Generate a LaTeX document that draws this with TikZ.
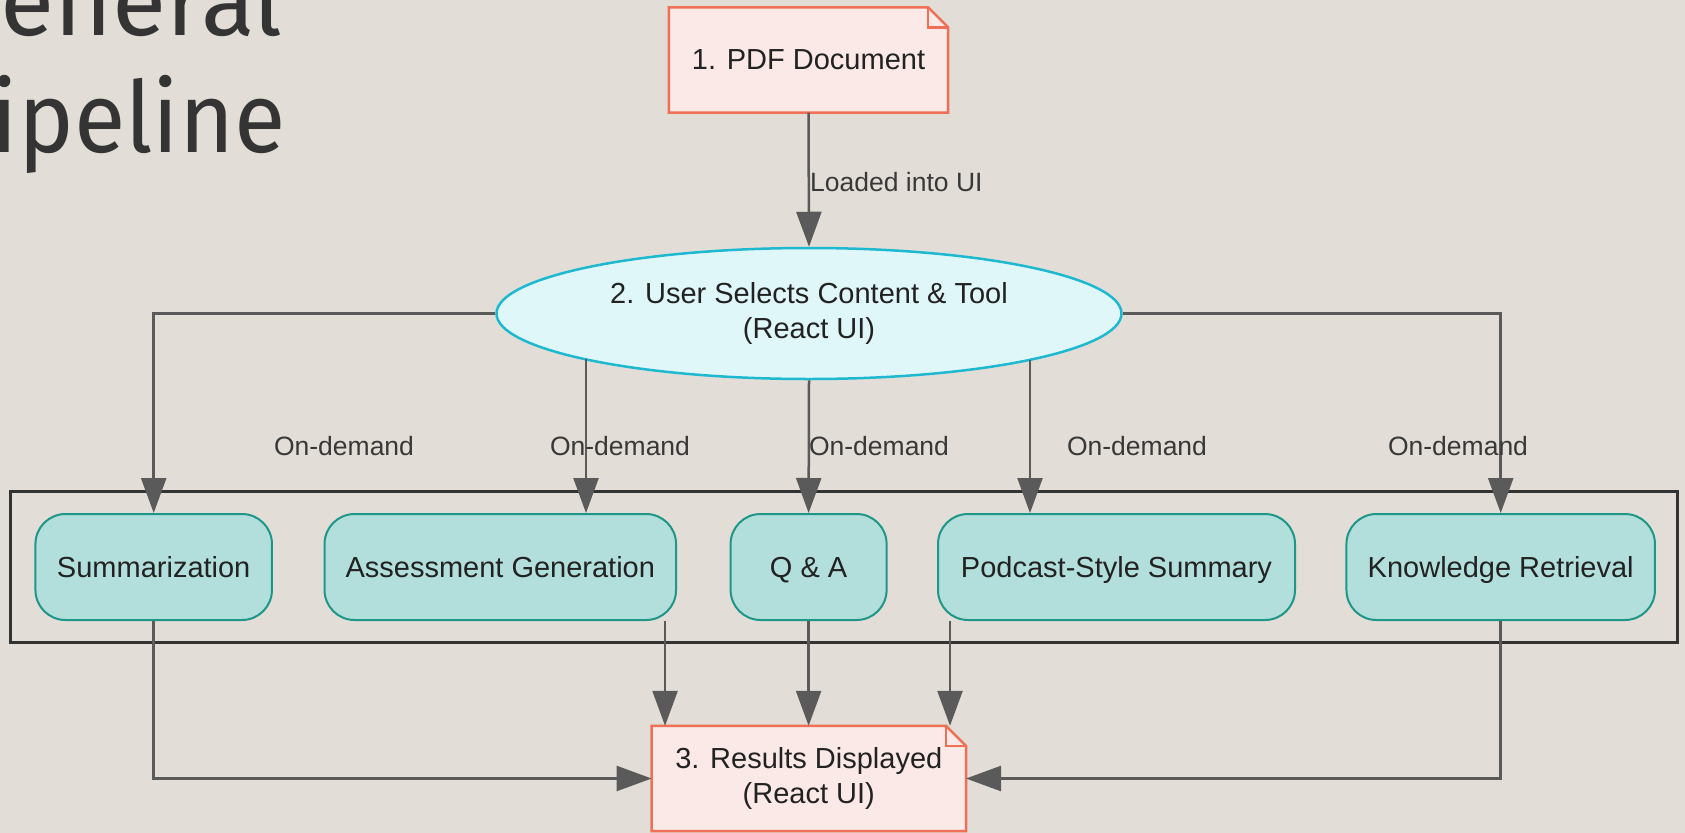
\documentclass[tikz,border=0pt]{standalone}
\usepackage{fontspec}
\setmainfont{Liberation Sans}
\newfontfamily\titlefont{Fira Sans}
\newfontfamily\titlefontn[FakeStretch=0.95]{Fira Sans}
\usetikzlibrary{arrows.meta,backgrounds,shapes.geometric,calc}
\definecolor{bgc}{RGB}{226,222,215}
\definecolor{notef}{RGB}{251,233,231}
\definecolor{noteb}{RGB}{239,112,84}
\definecolor{ellf}{RGB}{224,247,250}
\definecolor{ellb}{RGB}{30,185,208}
\definecolor{toolf}{RGB}{178,223,219}
\definecolor{toolb}{RGB}{30,150,136}
\definecolor{edgec}{RGB}{90,90,90}
\definecolor{boxc}{RGB}{51,51,51}
\definecolor{txt}{RGB}{34,34,34}
\definecolor{titlec}{RGB}{52,52,52}
\newcommand\drawnote[1]{%
  \begin{pgfonlayer}{background}
  \draw[noteline] (#1.south west) -- (#1.south east) -- ([yshift=-20bp]#1.north east)
     -- ([xshift=-20bp]#1.north east) -- (#1.north west) -- cycle;
  \draw[noteline, fill=none] ([xshift=-20bp]#1.north east) -- ([xshift=-20bp,yshift=-20bp]#1.north east)
     -- ([yshift=-20bp]#1.north east);
  \end{pgfonlayer}}
\tikzset{
  nodefont/.style={font=\fontsize{29bp}{35bp}\selectfont, text=txt},
  notebox/.style={nodefont, align=center, inner sep=0pt, minimum height=105bp},
  noteline/.style={draw=noteb, fill=notef, line width=2.5bp, line join=miter},
  ellbox/.style={ellipse, nodefont, align=center, draw=ellb, fill=ellf, line width=2.5bp,
     minimum width=625bp, minimum height=131bp, inner sep=0pt},
  toolbox/.style={rectangle, rounded corners=30bp, nodefont, draw=toolb, fill=toolf,
     line width=2bp, minimum height=106bp, inner sep=0pt, text height=21bp, text depth=0bp},
  container/.style={rectangle, draw=boxc, line width=3bp, inner sep=0pt},
  edge/.style={draw=edgec, line width=2.5bp, -{Triangle[length=35bp,width=25bp]}},
  lbl/.style={font=\fontsize{26.5bp}{32bp}\selectfont, text=txt!90, inner sep=0pt},
  titletext/.style={text=titlec, inner sep=0pt}
}
\begin{document}
\begin{tikzpicture}[x=1bp,y=-1bp]
\useasboundingbox (0,0) rectangle (1685,833);
\begin{pgfonlayer}{background}
\fill[bgc] (0,0) rectangle (1685,833);
\end{pgfonlayer}

% title fragments
\node[titletext, font=\titlefont\fontsize{99bp}{117bp}\selectfont, anchor=base east] (t1) at (283,35) {General};
\node[titletext, font=\titlefontn\fontsize{99bp}{117bp}\selectfont, anchor=base east] (t2) at (286,152) {Pipeline};

% notes and ellipse
\node[notebox, minimum width=279bp] (pdf) at (808.5,60) {1. PDF Document};
\drawnote{pdf}
\node[ellbox] (ui) at (809,313.5) {2. User Selects Content \& Tool\\(React UI)};
\node[notebox, minimum width=314bp] (res) at (808.8,778.5) {3. Results Displayed\\(React UI)};
\drawnote{res}

% container and tools
\node[container, minimum width=1667bp, minimum height=151.6bp] (box) at (844.4,566.8) {};
\node[toolbox, minimum width=236.5bp] (sum) at (153.7,567) {Summarization};
\node[toolbox, minimum width=351.5bp] (assess) at (500.3,567) {Assessment Generation};
\node[toolbox, minimum width=156bp] (qa) at (808.6,567) {Q \& A};
\node[toolbox, minimum width=357bp] (pod) at (1116.5,567) {Podcast-Style Summary};
\node[toolbox, minimum width=308.5bp] (kr) at (1500.7,567) {Knowledge Retrieval};

% branch points on the ellipse border
\coordinate (uiA) at ($(ui.center)+(-223,45.8)$);
\coordinate (uiP) at ($(ui.center)+(221,46)$);

% edges
\draw[edge] (pdf.south) -- (ui.north);
\draw[edge] (ui.west) -| (sum.north);
\draw[edge] (uiA) -- (uiA |- assess.north);
\draw[edge] (ui.south) -- (qa.north);
\draw[edge] (uiP) -- (uiP |- pod.north);
\draw[edge] (ui.east) -| (kr.north);

\draw[edge] ([xshift=-12bp]assess.south east) -- ([xshift=-12bp]assess.south east |- res.north);
\draw[edge] (qa.south) -- (qa.south |- res.north);
\draw[edge] ([xshift=13bp]pod.south west) -- ([xshift=13bp]pod.south west |- res.north);
\draw[edge] (sum.south) |- (res.west);
\draw[edge] (kr.south) |- (res.east);

% labels
\node[lbl, anchor=west] (l0) at (810,182) {Loaded into UI};
\node[lbl] (l1) at (344,446) {On-demand};
\node[lbl] (l2) at (620,446) {On-demand};
\node[lbl] (l3) at (879,446) {On-demand};
\node[lbl] (l4) at (1137,446) {On-demand};
\node[lbl] (l5) at (1458,446) {On-demand};
\end{tikzpicture}
\end{document}
